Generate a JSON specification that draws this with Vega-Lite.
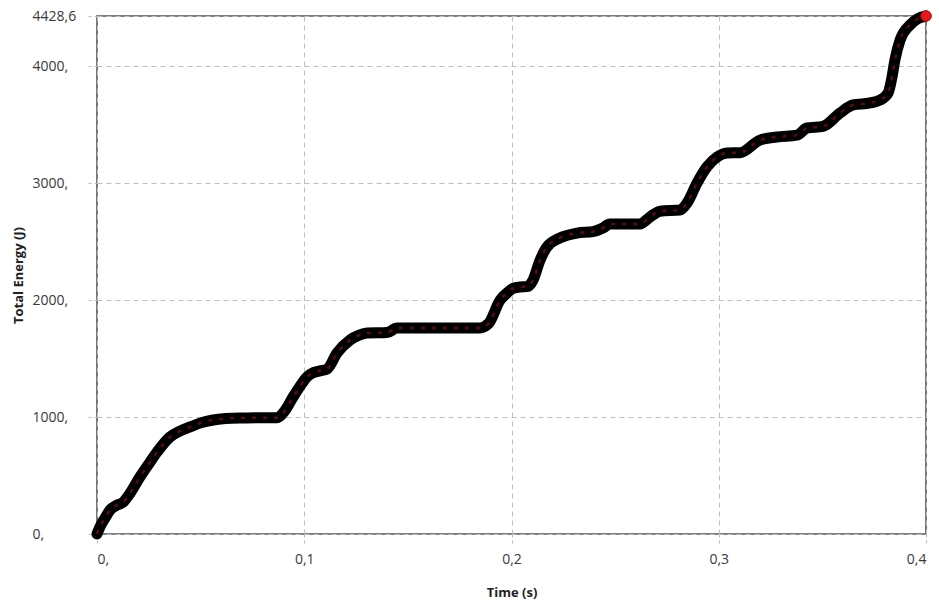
{
  "$schema": "https://vega.github.io/schema/vega-lite/v6.json",
  "description": "Total energy against time",
  "width": 829,
  "height": 518,
  "autosize": {"type": "none"},
  "padding": {"left": 97, "top": 16, "right": 13, "bottom": 73},
  "background": "white",
  "data": {
    "values": [
      {"time": 0, "energy": 0},
      {"time": 0.0014, "energy": 60},
      {"time": 0.004, "energy": 140},
      {"time": 0.0063, "energy": 205},
      {"time": 0.0095, "energy": 245},
      {"time": 0.0125, "energy": 270},
      {"time": 0.016, "energy": 350},
      {"time": 0.0207, "energy": 487},
      {"time": 0.025, "energy": 600},
      {"time": 0.029, "energy": 701},
      {"time": 0.0352, "energy": 829},
      {"time": 0.04, "energy": 880},
      {"time": 0.0449, "energy": 915},
      {"time": 0.05, "energy": 950},
      {"time": 0.056, "energy": 975},
      {"time": 0.062, "energy": 987},
      {"time": 0.069, "energy": 992},
      {"time": 0.078, "energy": 993},
      {"time": 0.0869, "energy": 993},
      {"time": 0.0905, "energy": 1050},
      {"time": 0.0946, "energy": 1171},
      {"time": 0.0994, "energy": 1300},
      {"time": 0.1013, "energy": 1342},
      {"time": 0.1045, "energy": 1380},
      {"time": 0.1076, "energy": 1395},
      {"time": 0.111, "energy": 1410},
      {"time": 0.1158, "energy": 1547},
      {"time": 0.1221, "energy": 1659},
      {"time": 0.1265, "energy": 1700},
      {"time": 0.1303, "energy": 1718},
      {"time": 0.1399, "energy": 1722},
      {"time": 0.1448, "energy": 1761},
      {"time": 0.1558, "energy": 1762},
      {"time": 0.17, "energy": 1762},
      {"time": 0.1848, "energy": 1762},
      {"time": 0.189, "energy": 1800},
      {"time": 0.1945, "energy": 2000},
      {"time": 0.1978, "energy": 2060},
      {"time": 0.2007, "energy": 2100},
      {"time": 0.2041, "energy": 2112},
      {"time": 0.2075, "energy": 2115},
      {"time": 0.2104, "energy": 2171},
      {"time": 0.2138, "energy": 2342},
      {"time": 0.2171, "energy": 2454},
      {"time": 0.2234, "energy": 2531},
      {"time": 0.2316, "energy": 2573},
      {"time": 0.2393, "energy": 2585},
      {"time": 0.2441, "energy": 2616},
      {"time": 0.2475, "energy": 2650},
      {"time": 0.255, "energy": 2650},
      {"time": 0.262, "energy": 2650},
      {"time": 0.2668, "energy": 2710},
      {"time": 0.2717, "energy": 2760},
      {"time": 0.2813, "energy": 2770},
      {"time": 0.2847, "energy": 2830},
      {"time": 0.2895, "energy": 3000},
      {"time": 0.2943, "energy": 3138},
      {"time": 0.2992, "energy": 3223},
      {"time": 0.304, "energy": 3257},
      {"time": 0.3103, "energy": 3260},
      {"time": 0.3199, "energy": 3368},
      {"time": 0.3281, "energy": 3394},
      {"time": 0.3378, "energy": 3410},
      {"time": 0.3426, "energy": 3471},
      {"time": 0.3503, "energy": 3485},
      {"time": 0.3585, "energy": 3599},
      {"time": 0.3648, "energy": 3668},
      {"time": 0.373, "energy": 3685},
      {"time": 0.3778, "energy": 3710},
      {"time": 0.3817, "energy": 3770},
      {"time": 0.3836, "energy": 3907},
      {"time": 0.385, "energy": 4052},
      {"time": 0.3875, "energy": 4223},
      {"time": 0.3923, "energy": 4352},
      {"time": 0.396, "energy": 4405},
      {"time": 0.4, "energy": 4428.6}
    ]
  },
  "encoding": {
    "x": {
      "field": "time",
      "type": "quantitative",
      "title": "Time (s)",
      "scale": {"domain": [0, 0.4], "nice": false, "zero": false},
      "axis": {
        "values": [0, 0.1, 0.2, 0.3, 0.4],
        "labelExpr": "datum.value == 0 ? '0,' : replace(format(datum.value, '.1f'), '.', ',')",
        "titleY": 58,
        "titleBaseline": "middle"
      }
    },
    "y": {
      "field": "energy",
      "type": "quantitative",
      "title": "Total Energy (J)",
      "scale": {"domain": [0, 4428.6], "nice": false},
      "axis": {
        "values": [0, 1000, 2000, 3000, 4000, 4428.6],
        "labelExpr": "datum.value > 4400 ? '4428,6' : format(datum.value, 'd') + ','",
        "labelAlign": "left",
        "labelPadding": 55,
        "titleX": -79,
        "titleY": 259,
        "titleBaseline": "middle"
      }
    }
  },
  "layer": [
    {
      "mark": {"type": "line", "color": "#000000", "strokeWidth": 11, "interpolate": "monotone", "strokeCap": "round", "strokeJoin": "round"}
    },
    {
      "mark": {"type": "line", "color": "#a8121a", "strokeWidth": 2.5, "strokeDash": [4, 7], "opacity": 0.55, "interpolate": "monotone"}
    },
    {
      "transform": [{"filter": "datum.time >= 0.4"}],
      "mark": {"type": "point", "filled": true, "fill": "#e8161b", "stroke": "#b01010", "strokeWidth": 1, "size": 110, "opacity": 1}
    }
  ],
  "config": {
    "font": "Open Sans",
    "view": {"stroke": "#555555", "strokeWidth": 1.6},
    "axis": {
      "domain": false,
      "grid": true,
      "gridColor": "#bdbdbd",
      "gridDash": [5, 4],
      "gridWidth": 1,
      "ticks": true,
      "tickColor": "#bdbdbd",
      "tickDash": [3, 3],
      "tickSize": 10,
      "labelFont": "Open Sans",
      "labelFontSize": 14,
      "labelColor": "#3a3a3a",
      "titleFont": "Open Sans",
      "titleFontSize": 13,
      "titleFontWeight": "bold",
      "titleColor": "#222222"
    },
    "axisX": {"labelPadding": 9, "tickSize": 9}
  }
}
